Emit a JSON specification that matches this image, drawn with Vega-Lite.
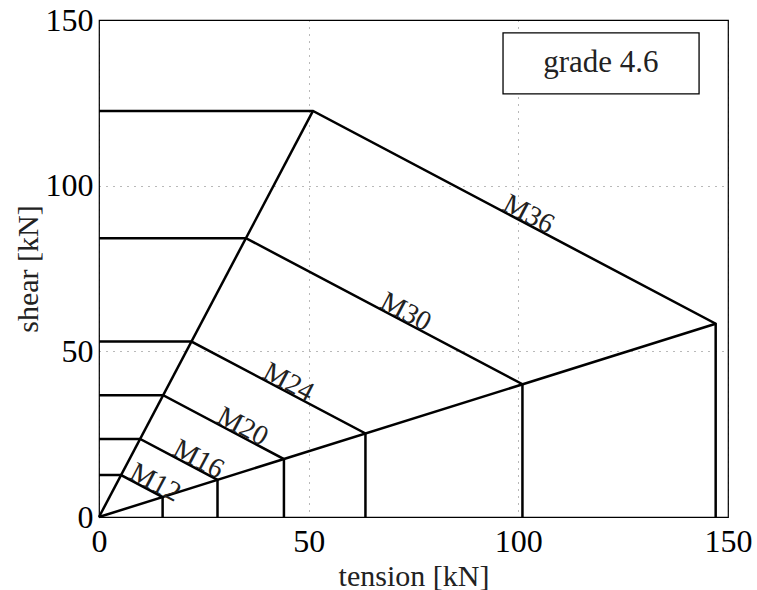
{
  "$schema": "https://vega.github.io/schema/vega-lite/v6.json",
  "autosize": "none",
  "width": 629,
  "height": 497,
  "padding": {"left": 99, "top": 20, "right": 29, "bottom": 73},
  "background": "white",
  "config": {
    "view": {"stroke": "black", "strokeWidth": 1.2},
    "font": "Liberation Serif",
    "axis": {
      "domain": false,
      "ticks": false,
      "grid": true,
      "gridColor": "#000",
      "gridOpacity": 0.55,
      "gridDash": [1, 6],
      "gridWidth": 1,
      "labelFont": "Liberation Serif",
      "labelFontSize": 32,
      "labelColor": "black",
      "titleFont": "Liberation Serif",
      "titleFontSize": 30,
      "titleFontWeight": "normal",
      "titleColor": "#222"
    }
  },
  "datasets": {
    "paths": [
      {"id": "M12", "ord": 1, "tension": 0, "shear": 12.65},
      {"id": "M12", "ord": 2, "tension": 5.26, "shear": 12.65},
      {"id": "M12", "ord": 3, "tension": 15.17, "shear": 6.02},
      {"id": "M12", "ord": 4, "tension": 15.17, "shear": 0},
      {"id": "M16", "ord": 1, "tension": 0, "shear": 23.55},
      {"id": "M16", "ord": 2, "tension": 9.81, "shear": 23.55},
      {"id": "M16", "ord": 3, "tension": 28.26, "shear": 11.21},
      {"id": "M16", "ord": 4, "tension": 28.26, "shear": 0},
      {"id": "M20", "ord": 1, "tension": 0, "shear": 36.75},
      {"id": "M20", "ord": 2, "tension": 15.3, "shear": 36.75},
      {"id": "M20", "ord": 3, "tension": 44.1, "shear": 17.49},
      {"id": "M20", "ord": 4, "tension": 44.1, "shear": 0},
      {"id": "M24", "ord": 1, "tension": 0, "shear": 52.95},
      {"id": "M24", "ord": 2, "tension": 22.05, "shear": 52.95},
      {"id": "M24", "ord": 3, "tension": 63.54, "shear": 25.2},
      {"id": "M24", "ord": 4, "tension": 63.54, "shear": 0},
      {"id": "M30", "ord": 1, "tension": 0, "shear": 84.15},
      {"id": "M30", "ord": 2, "tension": 35.04, "shear": 84.15},
      {"id": "M30", "ord": 3, "tension": 100.98, "shear": 40.06},
      {"id": "M30", "ord": 4, "tension": 100.98, "shear": 0},
      {"id": "M36", "ord": 1, "tension": 0, "shear": 122.55},
      {"id": "M36", "ord": 2, "tension": 51.03, "shear": 122.55},
      {"id": "M36", "ord": 3, "tension": 147.06, "shear": 58.33},
      {"id": "M36", "ord": 4, "tension": 147.06, "shear": 0},
      {"id": "ray1", "ord": 1, "tension": 0, "shear": 0},
      {"id": "ray1", "ord": 2, "tension": 51.03, "shear": 122.55},
      {"id": "ray2", "ord": 1, "tension": 0, "shear": 0},
      {"id": "ray2", "ord": 2, "tension": 147.06, "shear": 58.33}
    ],
    "labels": [
      {"label": "M12", "tension": 12.4, "shear": 7.87},
      {"label": "M16", "tension": 22.67, "shear": 14.95},
      {"label": "M20", "tension": 33.2, "shear": 24.78},
      {"label": "M24", "tension": 44.15, "shear": 38.17},
      {"label": "M30", "tension": 72.1, "shear": 59.37},
      {"label": "M36", "tension": 101.4, "shear": 88.86}
    ],
    "box": [
      {"text": "grade 4.6", "x1": 96.35, "x2": 143.1, "y1": 127.7, "y2": 146.1, "xc": 119.7, "yc": 136.9}
    ]
  },
  "layer": [
    {
      "data": {"name": "paths"},
      "mark": {"type": "line", "color": "black", "strokeWidth": 2.5, "strokeJoin": "miter", "strokeCap": "butt"},
      "encoding": {
        "x": {"field": "tension", "type": "quantitative", "scale": {"domain": [0, 150], "nice": false}, "axis": {"values": [0, 50, 100, 150], "title": "tension [kN]", "labelPadding": 9, "titlePadding": 4, "labelFlush": false}},
        "y": {"field": "shear", "type": "quantitative", "scale": {"domain": [0, 150], "nice": false}, "axis": {"values": [0, 50, 100, 150], "title": "shear [kN]", "labelPadding": 6, "titlePadding": 2, "labelFlush": false}},
        "detail": {"field": "id"},
        "order": {"field": "ord"}
      }
    },
    {
      "data": {"name": "labels"},
      "mark": {"type": "text", "angle": 27.8, "align": "center", "baseline": "alphabetic", "fontSize": 28, "color": "#222", "font": "Liberation Serif", "dy": -1},
      "encoding": {
        "x": {"field": "tension", "type": "quantitative"},
        "y": {"field": "shear", "type": "quantitative"},
        "text": {"field": "label"}
      }
    },
    {
      "data": {"name": "box"},
      "mark": {"type": "rect", "fill": "white", "stroke": "black", "strokeWidth": 1.3},
      "encoding": {
        "x": {"field": "x1", "type": "quantitative"},
        "x2": {"field": "x2"},
        "y": {"field": "y1", "type": "quantitative"},
        "y2": {"field": "y2"}
      }
    },
    {
      "data": {"name": "box"},
      "mark": {"type": "text", "align": "center", "baseline": "middle", "fontSize": 31, "color": "#222", "font": "Liberation Serif"},
      "encoding": {
        "x": {"field": "xc", "type": "quantitative"},
        "y": {"field": "yc", "type": "quantitative"},
        "text": {"field": "text"}
      }
    }
  ]
}
